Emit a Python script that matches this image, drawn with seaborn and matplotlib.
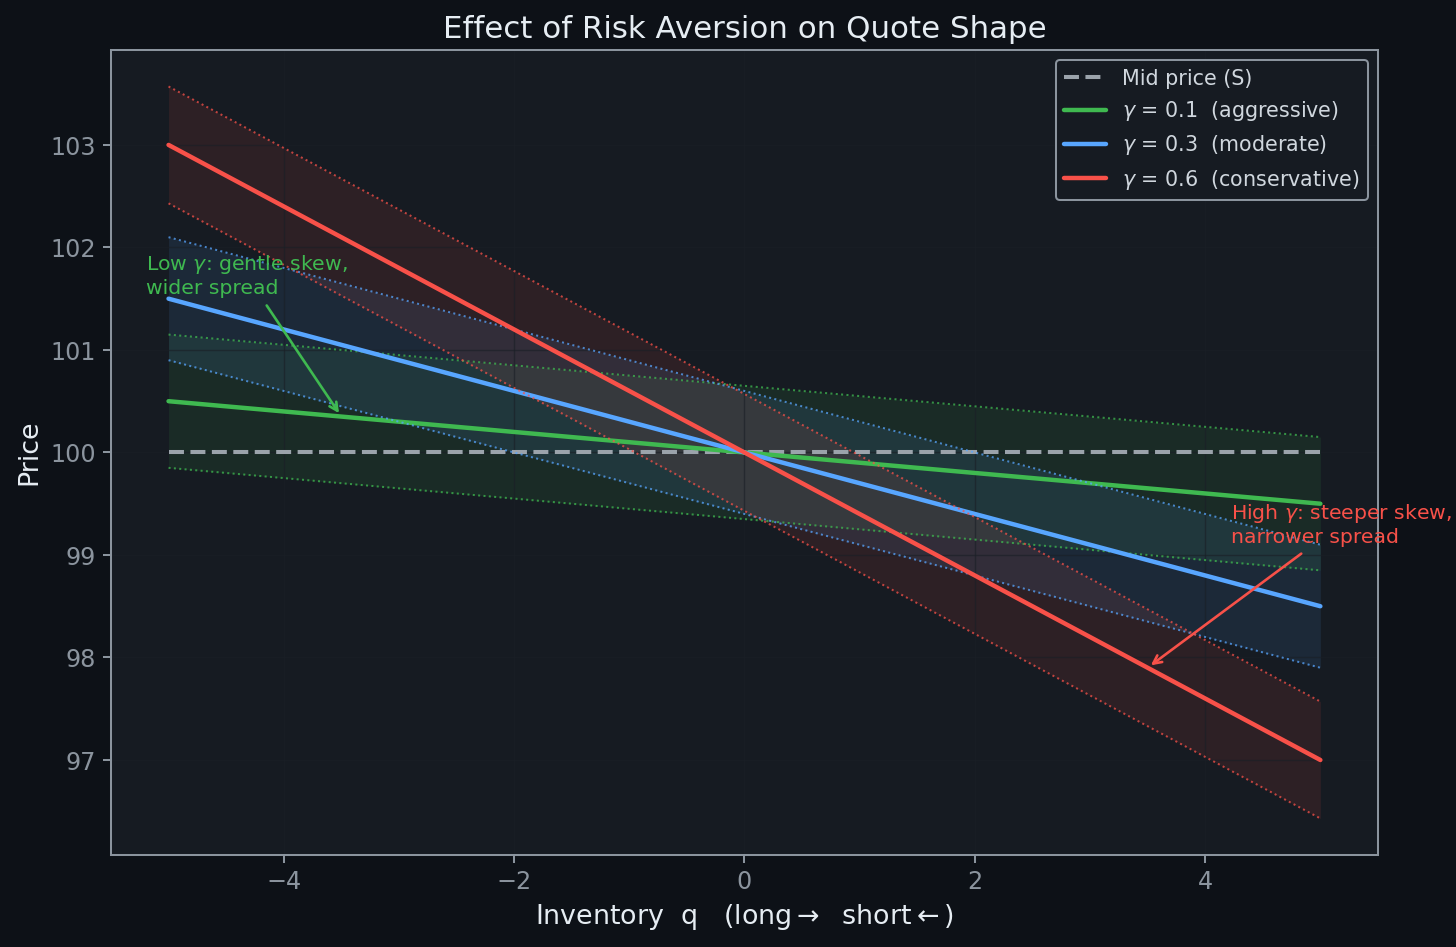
import numpy as np
import pandas as pd
import seaborn as sns
import matplotlib.pyplot as plt

# inventory endpoints and quote levels
q = [-5, 5]
mid = [100.0, 100.0]

res_01 = [100.5, 99.5]
ask_01 = [101.15, 100.15]
bid_01 = [99.85, 98.85]

res_03 = [101.5, 98.5]
ask_03 = [102.1, 99.1]
bid_03 = [100.9, 97.9]

res_06 = [103.0, 97.0]
ask_06 = [103.57, 97.57]
bid_06 = [102.43, 96.43]

labels = ['$\\gamma$ = 0.1  (aggressive)', '$\\gamma$ = 0.3  (moderate)',
          '$\\gamma$ = 0.6  (conservative)']
colors = ['#3fb950', '#58a6ff', '#f85149']

BG = '#0d1117'
AX_BG = '#161b22'

sns.set_theme(style='dark')
plt.rcParams.update({
    'figure.facecolor': BG,
    'axes.facecolor': AX_BG,
    'axes.edgecolor': '#8b949e',
    'axes.labelcolor': '#e6edf3',
    'xtick.color': '#8b949e',
    'ytick.color': '#8b949e',
    'text.color': '#e6edf3',
})
plt.rcParams['font.family'] = ['DejaVu Sans']

fig, ax = plt.subplots(figsize=(10, 6.505), dpi=145.6)
fig.subplots_adjust(left=0.0762, right=0.9464, top=0.9472, bottom=0.0971)

sns.lineplot(x=q, y=mid, color='#9ba3ab', lw=2, linestyle='--', label='Mid price (S)', ax=ax)

bands = [(res_01, ask_01, bid_01), (res_03, ask_03, bid_03), (res_06, ask_06, bid_06)]
for (res, ask, bid), lab, c in zip(bands, labels, colors):
    ax.fill_between(q, bid, ask, color=c, alpha=0.1, lw=0)
    ax.plot(q, ask, color=c, ls=':', lw=1, alpha=0.75)
    ax.plot(q, bid, color=c, ls=':', lw=1, alpha=0.75)
    sns.lineplot(x=q, y=res, color=c, lw=2.2, label=lab, ax=ax)

# faint grid, drawn just over the shaded bands
ax.grid(True, color='#1a1f26', lw=0.7, alpha=0.6)
ax.set_axisbelow('line')
for s in ax.spines.values():
    s.set_color('#8b949e')
    s.set_linewidth(1)
ax.tick_params(axis='both', labelsize=11.8, length=4, width=1, colors='#8b949e')
ax.tick_params(left=True, bottom=True)

ax.annotate('Low $\\gamma$: gentle skew,\nwider spread', xy=(-3.5, 100.35), xytext=(-5.2, 101.55),
            color=colors[0], fontsize=10.1,
            arrowprops=dict(arrowstyle='->', color=colors[0], lw=1.3))
ax.annotate('High $\\gamma$: steeper skew,\nnarrower spread', xy=(3.5, 97.9), xytext=(4.22, 99.12),
            color=colors[2], fontsize=10.1,
            arrowprops=dict(arrowstyle='->', color=colors[2], lw=1.3))

ax.set_xlabel('Inventory  q   (long$\\rightarrow$  short$\\leftarrow$)', fontsize=13.3)
ax.set_ylabel('Price', fontsize=13.3)
ax.set_title('Effect of Risk Aversion on Quote Shape', fontsize=15.3, color='#e6edf3')

leg = ax.legend(loc='upper right', fontsize=10.2, facecolor=AX_BG, edgecolor='#8b949e',
                labelcolor='#d0d7de', framealpha=1)

fig.savefig('out.png', dpi=145.6, facecolor=BG)
